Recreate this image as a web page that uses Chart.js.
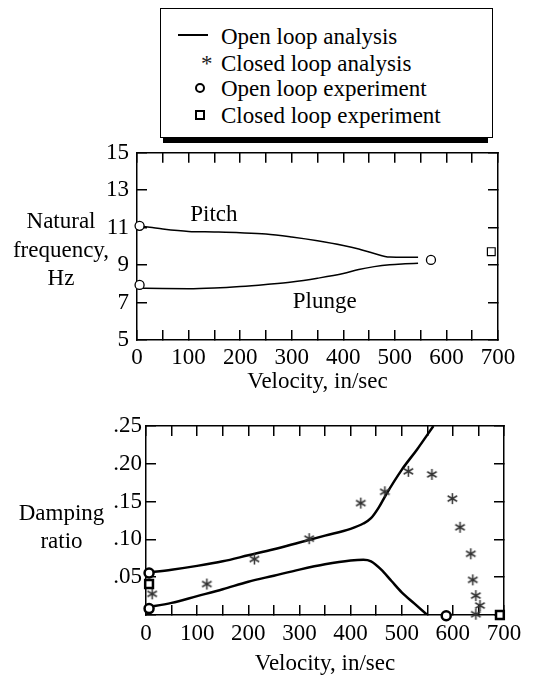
<!DOCTYPE html>
<html>
<head>
<meta charset="utf-8">
<script src="https://cdn.jsdelivr.net/npm/chart.js@4"></script>
<style>
  html, body { margin: 0; padding: 0; background: #fff; }
  body { width: 534px; height: 675px; position: relative; overflow: hidden;
         font-family: 'Liberation Serif', 'Times New Roman', serif; color: #000; }
  canvas { position: absolute; left: 0; }
  #legendBox { position: absolute; left: 160px; top: 8px; width: 333px; height: 130px;
               border: 1px solid #000; box-sizing: border-box; background: #fff; }
  #legendShadow { position: absolute; left: 163px; top: 138px; width: 325px; height: 5px; background: #000; }
  .lg { position: absolute; font-size: 23px; line-height: 26px; white-space: nowrap; }
  .sym { position: absolute; box-sizing: border-box; }
</style>
</head>
<body>
<!-- legend (plain HTML box with the heavy bottom bar) -->
<div id="legendBox"></div>
<div id="legendShadow"></div>
<div class="sym" style="left:178px;top:34px;width:30px;height:2px;background:#000"></div>
<div class="lg" style="left:221px;top:24px">Open loop analysis</div>
<div class="lg" style="left:201px;top:51px;color:#222">*</div>
<div class="lg" style="left:221px;top:51px">Closed loop analysis</div>
<div class="sym" style="left:195px;top:83px;width:10px;height:10px;border:2px solid #000;border-radius:50%"></div>
<div class="lg" style="left:221px;top:76px">Open loop experiment</div>
<div class="sym" style="left:195px;top:110px;width:10px;height:10px;border:2px solid #000"></div>
<div class="lg" style="left:221px;top:103px">Closed loop experiment</div>

<canvas id="freq" width="534" height="269" style="top:131px"></canvas>
<canvas id="damp" width="534" height="275" style="top:400px"></canvas>

<script>
// ===== 数据：固有频率（上图）=====
const pitchVel  = [0, 25, 50, 100, 150, 200, 250, 300, 350, 400, 430, 460, 490, 520, 545];
const pitchHz   = [11.1, 11.02, 10.93, 10.8, 10.77, 10.73, 10.66, 10.5, 10.3, 10.05, 9.86, 9.62, 9.43, 9.42, 9.42];
const plungeVel = [0, 50, 100, 150, 200, 250, 300, 350, 400, 430, 460, 490, 520, 545];
const plungeHz  = [7.78, 7.75, 7.74, 7.78, 7.86, 7.97, 8.1, 8.3, 8.55, 8.77, 8.92, 9.02, 9.07, 9.1];
const freqOpenExpVel   = [5, 5, 570];
const freqOpenExpHz    = [11.1, 7.94, 9.28];
const freqClosedExpVel = [687];
const freqClosedExpHz  = [9.72];

// ===== 数据：阻尼比（下图）=====
const dampUpperVel = [0, 50, 100, 150, 200, 250, 300, 350, 400, 425, 440, 455, 470, 500, 530, 562];
const dampUpper    = [.056, .060, .065, .071, .079, .087, .096, .105, .114, .121, .128, .142, .160, .192, .219, .25];
const dampLowerVel = [0, 50, 100, 150, 200, 250, 300, 350, 400, 425, 440, 460, 480, 500, 525, 550];
const dampLower    = [.010, .016, .025, .034, .044, .052, .060, .067, .072, .073, .071, .060, .045, .030, .015, 0];
const closedAnaVel  = [12, 119, 212, 319, 420, 467, 513, 559, 599, 614, 635, 639, 645, 653, 645];
const closedAnaDamp = [.028, .041, .074, .101, .148, .163, .190, .186, .154, .116, .081, .0465, .0257, .0125, .001];
const dampOpenExpVel   = [6, 6, 587];
const dampOpenExp      = [.0555, .0085, -.001];
const dampClosedExpVel = [6, 692];
const dampClosedExp    = [.041, 0];

// 轴范围 / 刻度间隔
const velRange  = [0, 700];
const freqRange = [5, 15];
const dampRange = [0, 0.25];
const velLabelStep = 100, velMarkStep = 50;
const freqStep = 2, dampStep = 0.05;

const SERIF = "'Liberation Serif', 'Times New Roman', serif";
Chart.defaults.font.family = SERIF;
Chart.defaults.font.size = 23;
Chart.defaults.color = '#000';

const zip = (xs, ys) => xs.map((x, i) => ({ x, y: ys[i] }));

// 6 spoke asterisk used as point style
function makeAsterisk(size, color) {
    const c = document.createElement('canvas');
    c.width = c.height = size;
    const g = c.getContext('2d');
    const r = size / 2 - 1, m = size / 2;
    g.strokeStyle = color;
    g.lineWidth = 1.5;
    g.beginPath();
    [90, 30, 150].forEach(deg => {
        const a = deg * Math.PI / 180;
        g.moveTo(m - r * Math.cos(a), m - r * Math.sin(a));
        g.lineTo(m + r * Math.cos(a), m + r * Math.sin(a));
    });
    g.stroke();
    return c;
}

// horizontal y-title on the left, plus curve names
function makeSideText(title, titleX, titleY, lineGap, curveLabels) {
    return {
        id: 'sideText',
        afterDraw(chart) {
            const { ctx } = chart;
            ctx.save();
            ctx.font = '23px ' + SERIF;
            ctx.fillStyle = '#000';
            ctx.textAlign = 'center';
            ctx.textBaseline = 'alphabetic';
            title.forEach((t, i) => ctx.fillText(t, titleX, titleY + i * lineGap));
            curveLabels.forEach(l => {
                ctx.fillText(l.text, chart.scales.x.getPixelForValue(l.x), chart.scales.y.getPixelForValue(l.y));
            });
            ctx.restore();
        }
    };
}

// 边框 + 向内刻度：零宽度的辅助轴，负 tickLength 让刻度朝图内
function markAxis(axis, position, range, step) {
    return {
        type: 'linear', axis, position, min: range[0], max: range[1], weight: 0,
        grid: { display: true, drawOnChartArea: false, drawTicks: true, tickLength: -10,
                color: '#000', lineWidth: 1.5 },
        border: { display: true, color: '#000', width: 1.5 },
        ticks: { display: false, stepSize: step },
        afterFit: s => { if (axis === 'x') s.height = 0; else s.width = 0; }
    };
}

function velAxis(tickPad, titlePad) {
    return {
        type: 'linear', min: velRange[0], max: velRange[1], weight: 1,
        grid: { display: false, drawTicks: false },
        border: { display: false },
        ticks: { stepSize: velLabelStep, padding: tickPad, maxRotation: 0, autoSkip: false, color: '#000' },
        title: { display: true, text: 'Velocity, in/sec', color: '#000',
                 font: { size: 23, lineHeight: 1 }, padding: { top: 0, bottom: titlePad } },
        afterFit: s => { s.height = 60; }
    };
}

function valueAxis(range, step, pad, width, callback) {
    const ticks = { stepSize: step, padding: pad, color: '#000' };
    if (callback) ticks.callback = callback;
    return {
        type: 'linear', min: range[0], max: range[1], weight: 1,
        grid: { display: false, drawTicks: false },
        border: { display: false },
        ticks,
        afterFit: s => { s.width = width; }
    };
}

// ===== 上图 =====
new Chart(document.getElementById('freq'), {
    type: 'line',
    data: {
        datasets: [
            { label: 'Closed loop experiment', data: zip(freqClosedExpVel, freqClosedExpHz), showLine: false,
              pointStyle: 'rect', pointRadius: 5.5, borderColor: '#000', backgroundColor: '#fff', borderWidth: 1.2, clip: false },
            { label: 'Open loop experiment', data: zip(freqOpenExpVel, freqOpenExpHz), showLine: false,
              pointStyle: 'circle', pointRadius: 4.5, borderColor: '#000', backgroundColor: '#fff', borderWidth: 1.3, clip: false },
            { label: 'Pitch', data: zip(pitchVel, pitchHz), borderColor: '#000', borderWidth: 1.5,
              pointRadius: 0, cubicInterpolationMode: 'monotone' },
            { label: 'Plunge', data: zip(plungeVel, plungeHz), borderColor: '#000', borderWidth: 1.5,
              pointRadius: 0, cubicInterpolationMode: 'monotone' }
        ]
    },
    options: {
        responsive: false,
        animation: false,
        layout: { padding: { left: 0, right: 36, top: 0, bottom: 0 } },
        plugins: { legend: { display: false }, tooltip: { enabled: false } },
        scales: {
            x: velAxis(4, 7),
            y: valueAxis(freqRange, freqStep, 8, 137),
            xb: markAxis('x', 'bottom', velRange, velMarkStep),
            xt: markAxis('x', 'top', velRange, velMarkStep),
            yl: markAxis('y', 'left', freqRange, freqStep),
            yr: markAxis('y', 'right', freqRange, freqStep)
        }
    },
    plugins: [
        makeSideText(['Natural', 'frequency,', 'Hz'], 61, 97, 28.7,
                     [{ text: 'Pitch', x: 149, y: 11.36 }, { text: 'Plunge', x: 364, y: 6.71 }])
    ]
});

// ===== 下图 =====
new Chart(document.getElementById('damp'), {
    type: 'line',
    data: {
        datasets: [
            { label: 'Closed loop experiment', data: zip(dampClosedExpVel, dampClosedExp), showLine: false,
              pointStyle: 'rect', pointRadius: 5.5, borderColor: '#000', backgroundColor: '#fff', borderWidth: 2.5, clip: false },
            { label: 'Open loop experiment', data: zip(dampOpenExpVel, dampOpenExp), showLine: false,
              pointStyle: 'circle', pointRadius: 4.5, borderColor: '#000', backgroundColor: '#fff', borderWidth: 2.5, clip: false },
            { label: 'Closed loop analysis', data: zip(closedAnaVel, closedAnaDamp), showLine: false,
              pointStyle: makeAsterisk(13, '#333'), pointRadius: 6, clip: false },
            { label: 'Open loop analysis (upper)', data: zip(dampUpperVel, dampUpper), borderColor: '#000', borderWidth: 2.5,
              pointRadius: 0, cubicInterpolationMode: 'monotone' },
            { label: 'Open loop analysis (lower)', data: zip(dampLowerVel, dampLower), borderColor: '#000', borderWidth: 2.5,
              pointRadius: 0, cubicInterpolationMode: 'monotone' }
        ]
    },
    options: {
        responsive: false,
        animation: false,
        layout: { padding: { left: 0, right: 30, top: 26, bottom: 0 } },
        plugins: { legend: { display: false }, tooltip: { enabled: false } },
        scales: {
            x: velAxis(5, 0),
            y: valueAxis(dampRange, dampStep, 4, 146,
                         v => (Math.abs(v) < 1e-9 ? '' : v.toFixed(2).replace(/^0/, ''))),
            xb: markAxis('x', 'bottom', velRange, velMarkStep),
            xt: markAxis('x', 'top', velRange, velMarkStep),
            yl: markAxis('y', 'left', dampRange, dampStep),
            yr: markAxis('y', 'right', dampRange, dampStep)
        }
    },
    plugins: [
        makeSideText(['Damping', 'ratio'], 61.5, 120, 28.3, [])
    ]
});
</script>
</body>
</html>
